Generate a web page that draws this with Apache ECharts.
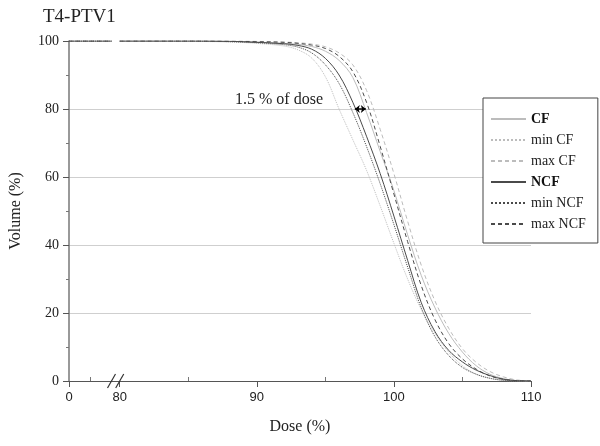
<!DOCTYPE html>
<html>
<head>
<meta charset="utf-8">
<script src="https://cdn.jsdelivr.net/npm/echarts@6/dist/echarts.min.js"></script>
<style>
  html, body { margin: 0; padding: 0; background: #fff; }
  #chart { width: 600px; height: 446px; }
</style>
</head>
<body>
<div id="chart"></div>
<script>
// dose (%) points of the curves (above the axis break)
const dose = [80, 85, 88, 90, 92, 93, 94, 95, 96, 97, 98, 99, 100, 101, 102, 103, 104, 105, 106, 107, 108, 109, 110];
// volume (%)
const cf     = [100, 100, 99.9, 99.7, 99.3, 99.0, 98.4, 97.0, 94.3, 89.3, 79.0, 67.5, 56.0, 43.0, 31.0, 21.5, 14.0, 8.5, 4.5, 2.0, 0.7, 0.1, 0];
const minCf  = [100, 99.9, 99.7, 99.3, 98.5, 97.4, 95.0, 89.5, 80.0, 71.0, 62.0, 51.5, 40.5, 30.0, 21.0, 14.0, 8.5, 4.5, 2.0, 0.8, 0.2, 0, 0];
const maxCf  = [100, 100, 100, 99.9, 99.7, 99.5, 99.1, 98.3, 96.5, 93.0, 85.5, 74.0, 61.0, 47.0, 34.0, 23.5, 15.5, 9.5, 5.5, 2.8, 1.2, 0.3, 0];
const ncf    = [100, 100, 99.9, 99.6, 99.2, 98.7, 97.6, 94.9, 90.0, 82.0, 72.0, 61.0, 48.5, 35.5, 23.0, 14.5, 9.0, 5.6, 3.2, 1.6, 0.5, 0.1, 0];
const minNcf = [100, 100, 99.8, 99.5, 98.9, 98.2, 96.5, 93.0, 87.5, 79.0, 69.0, 58.0, 46.0, 33.5, 21.5, 13.0, 7.5, 4.0, 2.0, 0.8, 0.2, 0, 0];
const maxNcf = [100, 100, 99.9, 99.8, 99.6, 99.3, 98.8, 97.8, 95.5, 91.0, 82.0, 69.0, 55.0, 41.0, 28.0, 18.0, 11.0, 6.5, 3.5, 1.5, 0.5, 0.1, 0];
// flat part before the break (0 .. 80 %)
const lowDose = [0, 80];
const lowVol = [100, 100];

const xTicks = [0, 80, 90, 100, 110];
const xMinorTicks = [40, 85, 95, 105];
const arrowDose = [97.15, 97.95];
const arrowVol = 80;

// broken axis: 0..80 is squeezed into a short piece at the left
const T0 = 76.3, LOW_END = 79.4;
function lowPos(d) { return T0 + d * (LOW_END - T0) / 80; }
function pos(d) { return d < 80 ? lowPos(d) : d; }

function build(vals) {
  const out = lowDose.map((d, i) => [lowPos(d), lowVol[i]]);
  out.push([79.7, '-']);
  dose.forEach((d, i) => out.push([d, vals[i]]));
  return out;
}

const light = '#bcbcbc', dark = '#4a4a4a';
const serif = 'Liberation Serif';

function line(name, vals, color, type) {
  return {
    name: name, type: 'line', data: build(vals), smooth: 0.35,
    symbol: 'none', color: color,
    lineStyle: { color: color, width: 1, type: type }
  };
}

const series = [
  line('CF', cf, light, 'solid'),
  line('min CF', minCf, light, 'dotted'),
  line('max CF', maxCf, light, [4, 3]),
  line('NCF', ncf, dark, 'solid'),
  line('min NCF', minNcf, dark, 'dotted'),
  line('max NCF', maxNcf, dark, [4, 3])
];
series[3].markLine = {
  silent: true, symbol: ['arrow', 'arrow'], symbolSize: [6, 5],
  label: { show: false },
  lineStyle: { color: '#000', width: 1.5, type: 'solid' },
  data: [[{ coord: [arrowDose[0], arrowVol] }, { coord: [arrowDose[1], arrowVol] }]]
};

const chart = echarts.init(document.getElementById('chart'));
chart.setOption({
  animation: false,
  title: {
    text: 'T4-PTV1', left: 38, top: 3,
    textStyle: { fontFamily: serif, fontSize: 19, fontWeight: 'normal', color: '#222' }
  },
  grid: { left: 67, right: 69, top: 41, bottom: 65 },
  legend: {
    orient: 'vertical', left: 483, top: 98,
    padding: [14, 12, 12, 7], itemGap: 7, itemWidth: 35, itemHeight: 14,
    borderColor: '#444', borderWidth: 1, backgroundColor: '#fff',
    itemStyle: { opacity: 0 },
    data: ['CF', 'min CF', 'max CF', 'NCF', 'min NCF', 'max NCF'],
    formatter: n => (n === 'CF' || n === 'NCF') ? '{b|' + n + '}' : n,
    textStyle: {
      fontFamily: serif, fontSize: 14, color: '#222',
      rich: { b: { fontFamily: serif, fontSize: 14, fontWeight: 'bold', color: '#111' } }
    }
  },
  xAxis: [{
    type: 'value', min: T0, max: 110,
    name: 'Dose (%)', nameLocation: 'middle', nameGap: 38,
    nameTextStyle: { fontFamily: serif, fontSize: 16, color: '#222' },
    axisLine: { lineStyle: { color: '#555', width: 1 } },
    axisTick: { length: 6, customValues: xTicks.map(pos), lineStyle: { color: '#555' } },
    axisLabel: {
      customValues: xTicks.map(pos), margin: 10,
      fontFamily: 'Liberation Sans', fontSize: 13, color: '#222',
      formatter: v => v < 79 ? '0' : String(Math.round(v))
    },
    splitLine: { show: false }
  }, {
    type: 'value', min: T0, max: 110, position: 'bottom',
    axisLine: { show: false },
    axisTick: { inside: true, length: 4, customValues: xMinorTicks.map(pos), lineStyle: { color: '#777' } },
    axisLabel: { show: false },
    splitLine: { show: false }
  }],
  yAxis: {
    type: 'value', min: 0, max: 100, interval: 20,
    name: 'Volume (%)', nameLocation: 'middle', nameGap: 45,
    nameTextStyle: { fontFamily: serif, fontSize: 16, color: '#222' },
    axisLine: { show: true, lineStyle: { color: '#777', width: 1.5 } },
    axisTick: { show: true, length: 6, lineStyle: { color: '#555' } },
    minorTick: { show: true, splitNumber: 2, length: 3, lineStyle: { color: '#777' } },
    axisLabel: { fontFamily: serif, fontSize: 14, color: '#222', margin: 10 },
    splitLine: { show: true, showMaxLine: false, lineStyle: { color: '#cfcfcf', width: 1 } }
  },
  series: series
});

// annotation and break marks
const p1 = chart.convertToPixel({ xAxisIndex: 0, yAxisIndex: 0 }, [LOW_END, 0]);
const p2 = chart.convertToPixel({ xAxisIndex: 0, yAxisIndex: 0 }, [80, 0]);
const slash = (p) => ({
  type: 'line', z: 100,
  shape: { x1: p[0] - 4, y1: p[1] + 7, x2: p[0] + 4, y2: p[1] - 7 },
  style: { stroke: '#333', lineWidth: 1.2 }
});
chart.setOption({
  graphic: [
    slash(p1), slash(p2),
    {
      type: 'text', left: 235, top: 92,
      style: { text: '1.5 % of dose', fontFamily: serif, fontSize: 16, fill: '#222' }
    }
  ]
});
</script>
</body>
</html>
